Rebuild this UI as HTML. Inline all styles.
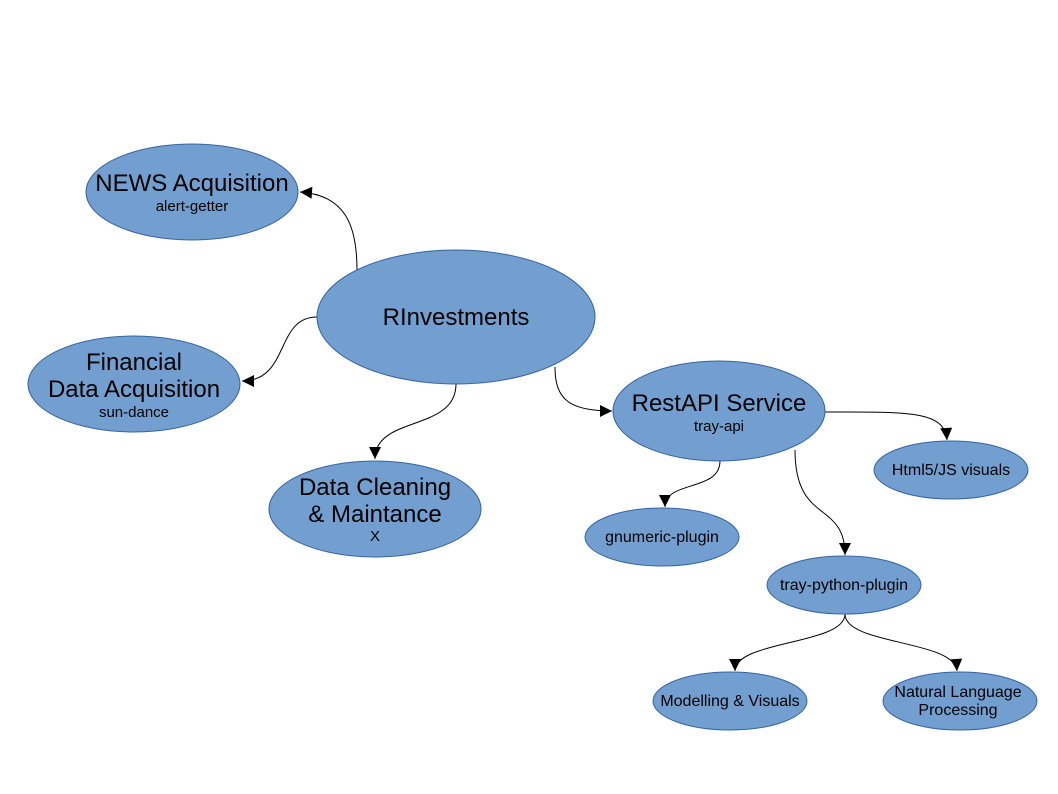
<!DOCTYPE html>
<html><head><style>body{margin:0;background:#fff}svg{display:block}</style></head><body>
<svg width="1058" height="794" xmlns="http://www.w3.org/2000/svg" font-family="Liberation Sans, sans-serif">
<defs><marker id="a" viewBox="0 0 10 10" refX="10" refY="5" markerWidth="14" markerHeight="12" markerUnits="userSpaceOnUse" orient="auto"><path d="M0,0L10,5L0,10z" fill="#000"/></marker></defs>
<g fill="none" stroke="#000" stroke-width="1" marker-end="url(#a)">
<path d="M357,270 C357,225 345,195 300,192"/>
<path d="M317,317 C275,317 290,381 242,381"/>
<path d="M456,384 C456,432 375,415 375,459"/>
<path d="M555,367 C555,400 570,411 612,411"/>
<path d="M825,412 C905,412 945,410 947,440"/>
<path d="M720,461 C720,492 665,480 665,507"/>
<path d="M795,450 C795,525 845,500 845,555"/>
<path d="M845,614 C845,645 735,640 735,671"/>
<path d="M845,614 C845,645 955,640 957,671"/>
</g>
<g fill="#729fcf" stroke="#3465a4" stroke-width="1">
<ellipse cx="192" cy="192" rx="106" ry="48"/>
<ellipse cx="456" cy="317" rx="139" ry="67"/>
<ellipse cx="134" cy="384" rx="106" ry="48"/>
<ellipse cx="375" cy="509" rx="106" ry="48"/>
<ellipse cx="719" cy="411" rx="106" ry="50"/>
<ellipse cx="951" cy="470" rx="77" ry="29"/>
<ellipse cx="662" cy="537" rx="77" ry="29"/>
<ellipse cx="844" cy="585" rx="77" ry="29"/>
<ellipse cx="730" cy="701" rx="77" ry="29"/>
<ellipse cx="960" cy="701" rx="77" ry="29"/>
</g>
<g fill="#000" text-anchor="middle">
<text x="192" y="191" font-size="24">NEWS Acquisition</text>
<text x="192" y="211" font-size="15">alert-getter</text>
<text x="456" y="325" font-size="24">RInvestments</text>
<text x="134" y="370" font-size="24">Financial</text>
<text x="134" y="397" font-size="24">Data Acquisition</text>
<text x="134" y="417" font-size="15">sun-dance</text>
<text x="375" y="495" font-size="24">Data Cleaning</text>
<text x="375" y="522" font-size="24">&amp; Maintance</text>
<text x="375" y="541" font-size="15">X</text>
<text x="719" y="411" font-size="24">RestAPI Service</text>
<text x="719" y="431" font-size="15">tray-api</text>
<text x="951" y="475" font-size="16">Html5/JS visuals</text>
<text x="662" y="542" font-size="16">gnumeric-plugin</text>
<text x="844" y="590" font-size="16">tray-python-plugin</text>
<text x="730" y="706" font-size="16">Modelling &amp; Visuals</text>
<text x="958" y="697" font-size="16">Natural Language</text>
<text x="958" y="715" font-size="16">Processing</text>
</g>
</svg>
</body></html>
